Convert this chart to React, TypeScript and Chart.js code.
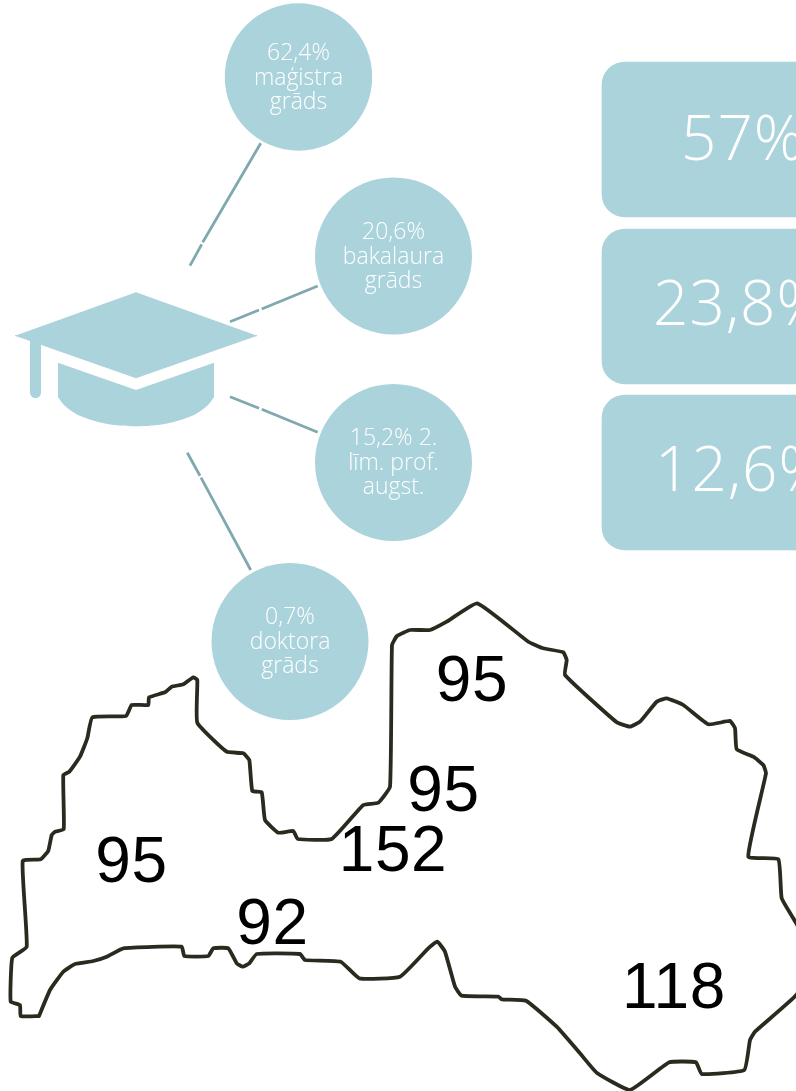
import React, { useEffect, useRef } from "react";
import { Chart, registerables } from "chart.js";

Chart.register(...registerables);

const WIDTH = 796;
const HEIGHT = 1091;
const TEAL = "#abd3db";
const LINK = "#7fa9ae";
const INK = "#2b2a1f";

// education circles
const circleCentres = [
  { x: 298.5, y: 77, r: 73.7 },
  { x: 393.5, y: 256, r: 78.5 },
  { x: 393.5, y: 462.5, r: 78.5 },
  { x: 290, y: 641.5, r: 78.5 },
];
const circleLabels = [
  ["62,4%", "maģistra", "grāds"],
  ["20,6%", "bakalaura", "grāds"],
  ["15,2% 2.", "līm. prof.", "augst."],
  ["0,7%", "doktora", "grāds"],
];
const circleFirstBaseline = [60, 239, 445, 624];

// connectors, with the small break near the cap
const connectors = [
  [[260.7, 143.3], [202.7, 242.3], null, [201.7, 244.3], [190, 265.7]],
  [[317.7, 286], [261.7, 309], null, [259, 310], [230, 321.7]],
  [[230, 396.7], [259, 408.3], null, [261.7, 409.3], [317.7, 432.3]],
  [[187.3, 452.7], [200, 475.7], null, [201, 477.7], [250.7, 570]],
];

// graduation cap
const capUpper = [[15, 335.7], [136, 292.3], [257.3, 335.7]];
const capLower = [[15, 335.7], [136, 378.3], [257.3, 335.7]];
const tassel = [[35.5, 340], [35.5, 392.5]];
const baseUpper = [[58, 362.7], [136, 390], [214, 362.7]];
const baseLower = [[58, 397], [64, 405], [78, 415], [105, 423.5], [136, 426.3], [167, 423.5], [194, 415], [208, 405], [214, 397]];

// right-hand boxes
const boxRanges = [
  [62, 217],
  [229, 384],
  [395, 550],
];
const boxLabels = ["57%", "23,8%", "12,6%"];
const boxLabelX = [681, 653, 655];
const boxLabelBaseline = [159.5, 325, 491];

// region values on the map
const mapValues = ["95", "95", "95", "92", "152", "118"];
const mapValueCentreX = [472, 443.5, 131.5, 272.5, 393, 674];
const mapValueBaseline = [700.5, 810.5, 882, 944, 870.5, 1008];

const mapOutline = [
  [39, 1016], [20.7, 1016], [20, 1005], [10.7, 1001.7], [12.3, 957.7], [26.7, 946.7], [22.7, 861], [40.7, 859.3],
  [48.3, 850.7], [51.7, 835], [55, 831.7], [63.7, 829.3], [63.3, 775], [69.3, 771.7], [80, 756.7], [87.3, 738.3],
  [92.3, 717.3], [126, 716], [131.7, 705], [148.3, 705], [149, 697.3], [165, 692.3], [171.7, 686.7], [183.3, 684.3],
  [193.3, 677.3], [197.3, 680], [197.3, 722.7], [226.7, 751.7], [243.3, 753.3], [249.3, 760], [252.3, 791],
  [261.7, 792.3], [265, 820], [278.3, 832.7], [293.3, 831], [297.7, 839], [331.7, 839], [363.3, 805], [378.3, 802.7],
  [390, 786.7], [392, 645], [397, 636], [410, 630], [430, 630], [446.7, 621.7], [477.3, 603.3], [528.3, 641.7],
  [543.3, 648.3], [563.3, 652.3], [566.7, 660], [565, 675], [616.7, 722.3], [630, 726.7], [640, 721.7], [656.7, 701.7],
  [666.7, 698.3], [683.3, 705], [708.3, 724.3], [730, 721], [735, 728.3], [736.7, 749.3], [753.3, 756.7], [763.3, 765],
  [766, 773.3], [748.3, 856.7], [778.3, 859.3], [781.7, 898.3], [796.3, 923.3], [815, 960], [796.3, 995], [755, 1031.7],
  [750, 1040], [744.3, 1070], [701.7, 1074], [696, 1062.3], [669.3, 1062.3], [630, 1090], [596.7, 1072.7], [580, 1053.3],
  [556.7, 1026.7], [526, 1000.7], [501.7, 999.3], [498.3, 996.7], [461.7, 995.7], [455, 986.7], [445, 951.7],
  [437.3, 941.7], [428.3, 948.3], [400, 976.7], [359.3, 978.3], [340.7, 961.7], [305, 960], [300, 954], [256.7, 954],
  [249.3, 963.3], [242.7, 966.7], [236.7, 963.3], [228.3, 948.3], [213.3, 948.3], [208.3, 956], [184.3, 956],
  [181.7, 946.7], [123.3, 948.3], [106.7, 956.7], [93.3, 961], [75, 964], [63.3, 971.7], [50, 990], [39, 1016],
];

const toPoints = (list: any[]) =>
  list.map((p) => (p ? { x: p[0], y: p[1] } : { x: null, y: null }));

const linePart = (data: any[], extra: any) => ({
  type: "line" as const,
  data: toPoints(data),
  pointRadius: 0,
  spanGaps: false,
  tension: 0,
  ...extra,
});

const textPlugin = {
  id: "infographicText",
  afterDatasetsDraw(chart: any) {
    const { ctx, scales } = chart;
    const X = (v: number) => scales.x.getPixelForValue(v);
    const Y = (v: number) => scales.y.getPixelForValue(v);
    ctx.save();
    ctx.textBaseline = "alphabetic";

    ctx.fillStyle = "#ffffff";
    ctx.textAlign = "center";
    ctx.font = '300 23px "Open Sans"';
    circleLabels.forEach((lines, i) => {
      lines.forEach((line, j) => {
        ctx.fillText(line, X(circleCentres[i].x), Y(circleFirstBaseline[i] + j * 24.5));
      });
    });

    ctx.textAlign = "left";
    ctx.font = '300 62px "Open Sans"';
    ctx.letterSpacing = "1px";
    boxLabels.forEach((label, i) => {
      ctx.fillText(label, X(boxLabelX[i]), Y(boxLabelBaseline[i]));
    });
    ctx.letterSpacing = "0.6px";

    ctx.fillStyle = "#000000";
    ctx.textAlign = "center";
    ctx.font = '64px "Liberation Sans"';
    mapValues.forEach((label, i) => {
      ctx.fillText(label, X(mapValueCentreX[i]), Y(mapValueBaseline[i]));
    });
    ctx.restore();
  },
};

export default function App() {
  const ref = useRef<HTMLCanvasElement | null>(null);

  useEffect(() => {
    document.body.style.margin = "0";
    const chart = new Chart(ref.current as HTMLCanvasElement, {
      type: "scatter",
      data: {
        datasets: [
          {
            type: "bar",
            data: boxRanges.map((range) => ({ x: 722, y: range })),
            backgroundColor: TEAL,
            borderWidth: 0,
            borderRadius: 23,
            borderSkipped: false,
            barThickness: 240,
          },
          {
            type: "bubble",
            data: circleCentres,
            backgroundColor: TEAL,
            borderWidth: 0,
            hoverRadius: 0,
          },
          ...connectors.map((c) => linePart(c, { borderColor: LINK, borderWidth: 2.8 })),
          linePart(capUpper, { borderWidth: 0, backgroundColor: TEAL, fill: { value: 336.2 } }),
          linePart(capLower, { borderWidth: 0, backgroundColor: TEAL, fill: { value: 335.2 } }),
          linePart(tassel, { borderColor: TEAL, borderWidth: 11, borderCapStyle: "round" }),
          linePart(baseUpper, { borderWidth: 0, backgroundColor: TEAL, fill: { value: 397.5 } }),
          linePart(baseLower, { borderWidth: 0, backgroundColor: TEAL, fill: { value: 396 }, tension: 0.3 }),
          linePart(mapOutline, {
            borderColor: INK,
            borderWidth: 3.8,
            borderJoinStyle: "round",
            borderCapStyle: "round",
            tension: 0.12,
          }),
        ] as any,
      },
      options: {
        animation: false,
        responsive: false,
        events: [],
        layout: { padding: 0, autoPadding: false },
        plugins: { legend: { display: false }, tooltip: { enabled: false } },
        scales: {
          x: { type: "linear", display: false, min: 0, max: WIDTH, offset: false },
          y: { type: "linear", display: false, min: 0, max: HEIGHT, reverse: true },
        },
      } as any,
      plugins: [textPlugin],
    });
    return () => chart.destroy();
  }, []);

  return (
    <div style={{ position: "absolute", left: 0, top: 0, width: WIDTH, height: HEIGHT, overflow: "hidden", background: "#fff" }}>
      <canvas ref={ref} width={WIDTH} height={HEIGHT} style={{ display: "block" }} />
    </div>
  );
}
